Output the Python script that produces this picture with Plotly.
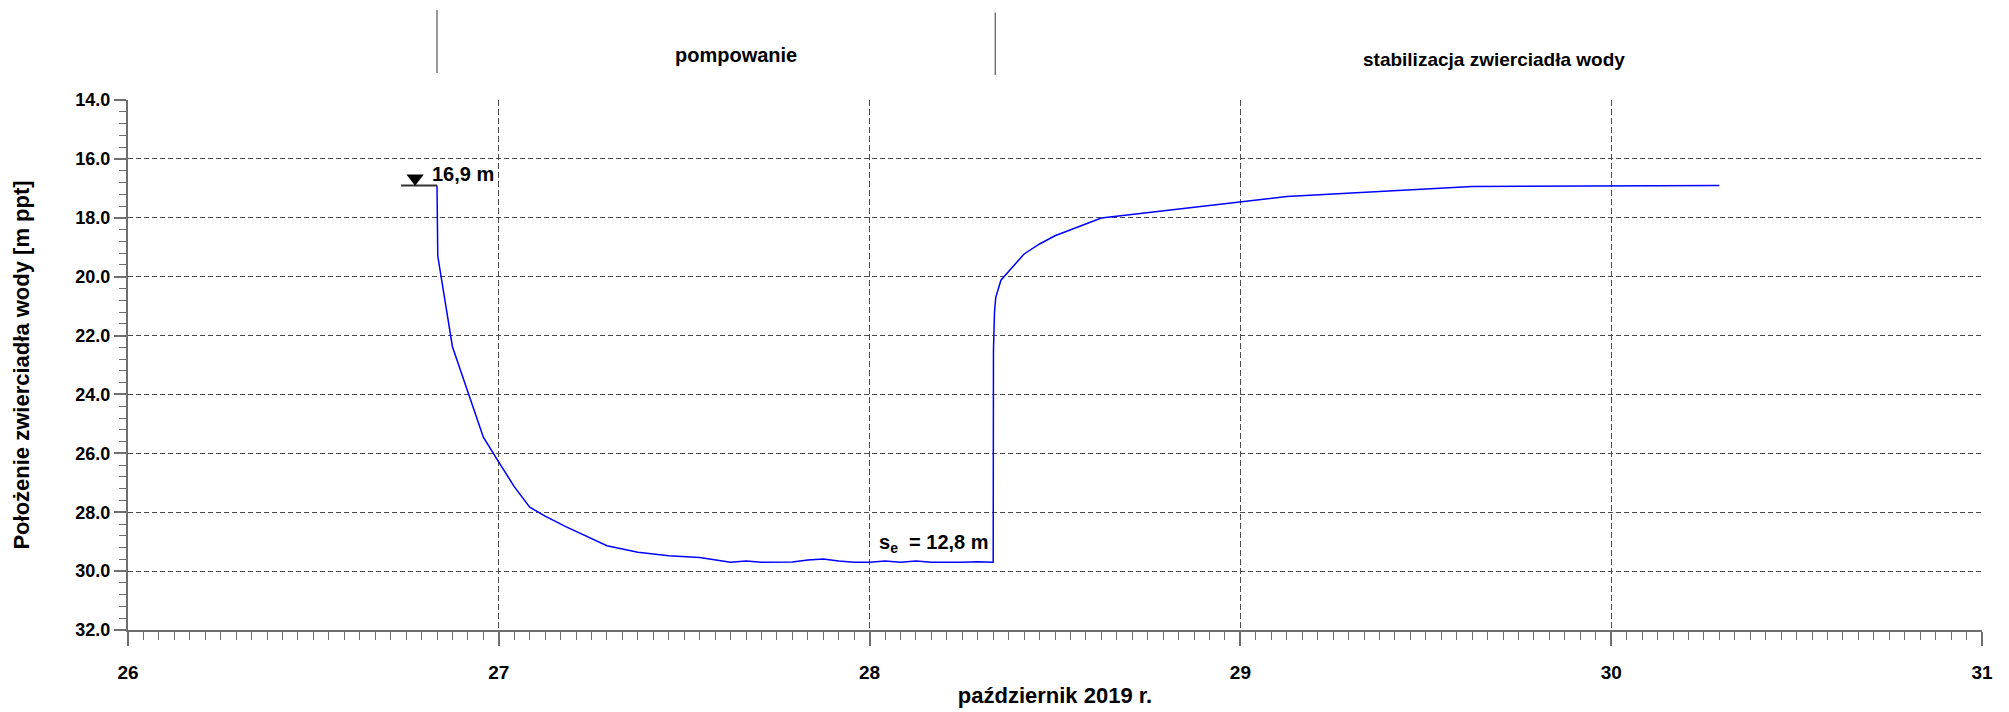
import plotly.graph_objects as go

# ---------------- data ----------------
times = [
    "2019-10-26 20:00", "2019-10-26 20:03", "2019-10-26 21:00", "2019-10-26 23:00",
    "2019-10-27 00:00", "2019-10-27 01:00", "2019-10-27 02:00", "2019-10-27 03:00",
    "2019-10-27 04:20", "2019-10-27 05:40", "2019-10-27 07:00", "2019-10-27 09:00",
    "2019-10-27 11:00", "2019-10-27 13:00", "2019-10-27 14:00", "2019-10-27 15:00",
    "2019-10-27 16:00", "2019-10-27 17:00", "2019-10-27 19:00", "2019-10-27 20:00",
    "2019-10-27 21:00", "2019-10-27 22:00", "2019-10-27 23:00", "2019-10-28 00:00",
    "2019-10-28 01:00", "2019-10-28 02:00", "2019-10-28 03:00", "2019-10-28 04:00",
    "2019-10-28 06:00", "2019-10-28 07:00", "2019-10-28 08:00",
    "2019-10-28 08:01", "2019-10-28 08:05", "2019-10-28 08:10", "2019-10-28 08:30",
    "2019-10-28 10:00", "2019-10-28 11:00", "2019-10-28 12:00", "2019-10-28 15:00",
    "2019-10-29 00:00", "2019-10-29 03:00", "2019-10-29 15:00", "2019-10-30 00:00",
    "2019-10-30 07:00",
]
levels = [
    16.90, 19.30, 22.38, 25.45,
    26.30, 27.13, 27.83, 28.13,
    28.49, 28.81, 29.14, 29.36,
    29.48, 29.54, 29.62, 29.70,
    29.66, 29.70, 29.69, 29.62,
    29.59, 29.66, 29.70, 29.70,
    29.66, 29.70, 29.66, 29.70,
    29.70, 29.68, 29.70,
    22.50, 21.20, 20.70, 20.12,
    19.23, 18.89, 18.61, 18.01,
    17.45, 17.28, 16.94, 16.92,
    16.90,
]

static_level = 16.9
static_line_times = ["2019-10-26 17:40", "2019-10-26 20:00"]
static_marker_time = "2019-10-26 18:35"
static_marker_level = 16.66
static_label = "16,9 m"
static_label_time = "2019-10-26 21:40"
static_label_level = 16.50

drawdown_label = "s<sub>e</sub>  = 12,8 m"
drawdown_label_time = "2019-10-28 04:10"
drawdown_label_level = 29.05

phase_bounds = ["2019-10-26 20:00", "2019-10-28 08:08"]
phase_names = ["pompowanie", "stabilizacja zwierciadła wody"]
phase_label_times = ["2019-10-27 15:20", "2019-10-29 16:25"]

x_range = ["2019-10-26 00:00", "2019-10-31 00:00"]
y_range = [32.0, 14.0]

x_title = "październik 2019 r."
y_title = "Położenie zwierciadła wody [m ppt]"

# ---------------- figure ----------------
FONT = "Liberation Sans, Arial, sans-serif"
GRID = "#4d4d4d"
AXC = "#6e6e6e"


def f(size):
    return dict(family=FONT, size=size, color="#000", weight="bold")


fig = go.Figure()

fig.add_trace(go.Scatter(
    x=times, y=levels, mode="lines",
    line=dict(color="#0000ff", width=1.5),
    showlegend=False, hoverinfo="x+y",
))

# static water level symbol
fig.add_trace(go.Scatter(
    x=static_line_times, y=[static_level, static_level], mode="lines",
    line=dict(color="#333333", width=2), showlegend=False, hoverinfo="skip",
))
fig.add_trace(go.Scatter(
    x=[static_marker_time], y=[static_marker_level], mode="markers",
    marker=dict(symbol="triangle-down", size=15, color="#000000"),
    showlegend=False, hoverinfo="skip",
))

annotations = [
    dict(x=static_label_time, y=static_label_level, xref="x", yref="y",
         text=static_label, showarrow=False, xanchor="center", yanchor="middle",
         font=f(20)),
    dict(x=drawdown_label_time, y=drawdown_label_level, xref="x", yref="y",
         text=drawdown_label, showarrow=False, xanchor="center", yanchor="middle",
         font=f(20)),
    dict(x=phase_label_times[0], y=1.085, xref="x", yref="paper",
         text=phase_names[0], showarrow=False, xanchor="center", yanchor="middle",
         font=f(20)),
    dict(x=phase_label_times[1], y=1.0755, xref="x", yref="paper",
         text=phase_names[1], showarrow=False, xanchor="center", yanchor="middle",
         font=f(19)),
]

shapes = [
    dict(type="line", xref="x", yref="paper", x0=phase_bounds[0], x1=phase_bounds[0],
         y0=1.051, y1=1.170, line=dict(color="#555555", width=1.2)),
    dict(type="line", xref="x", yref="paper", x0=phase_bounds[1], x1=phase_bounds[1],
         y0=1.047, y1=1.165, line=dict(color="#555555", width=1.2)),
]

# the page body has an 8px default margin; size the figure to fill the window
fig.update_layout(
    width=2001, height=704,
    margin=dict(l=120, r=27, t=92, b=82, autoexpand=False),
    paper_bgcolor="white", plot_bgcolor="white",
    font=f(18),
    annotations=annotations, shapes=shapes,
    showlegend=False,
)

fig.update_xaxes(
    type="date", range=x_range, automargin=False,
    dtick=86400000, tick0="2019-10-26", tickformat="%-d",
    ticks="outside", ticklen=14, tickwidth=1.5, tickcolor=AXC,
    tickfont=f(19),
    ticklabelstandoff=10,
    showline=True, linecolor=AXC, linewidth=2,
    showgrid=True, gridcolor=GRID, gridwidth=1, griddash="6px,3px",
    zeroline=False,
    minor=dict(dtick=3600000, ticks="outside", ticklen=8, tickwidth=1.2,
               tickcolor=AXC, showgrid=False),
    title=dict(text=x_title, standoff=6, font=f(22)),
)

fig.update_yaxes(
    range=y_range, dtick=2, tick0=14, tickformat=".1f", automargin=False,
    ticks="outside", ticklen=12, tickwidth=1.5, tickcolor=AXC,
    tickfont=f(18),
    showline=True, linecolor=AXC, linewidth=2,
    showgrid=True, gridcolor=GRID, gridwidth=1, griddash="5px,3px",
    zeroline=False,
    minor=dict(dtick=0.4, ticks="outside", ticklen=7, tickwidth=1.2,
               tickcolor=AXC, showgrid=False),
    title=dict(text=y_title, standoff=40, font=f(22)),
)

fig.write_html("out.html")
